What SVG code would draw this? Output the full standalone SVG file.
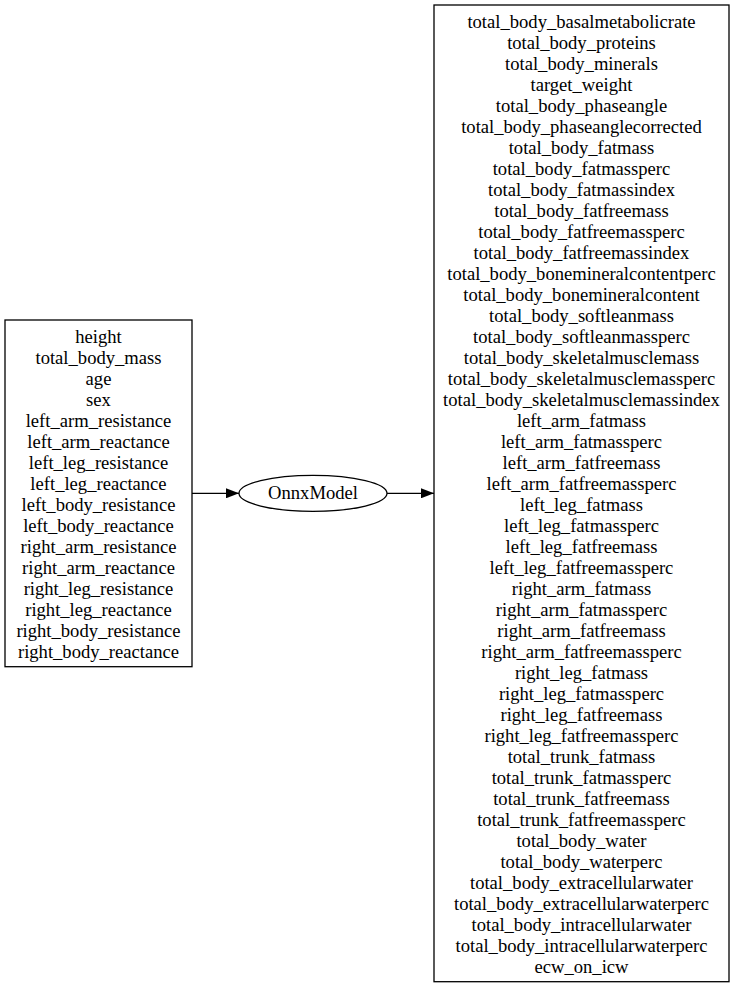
<svg xmlns="http://www.w3.org/2000/svg" width="736" height="987" viewBox="0 0 736 987">
<style>
text{font-family:"Liberation Serif","Times New Roman",serif;font-size:18.6px;text-anchor:middle;fill:#000}
.box{fill:none;stroke:#000;stroke-width:1.3}
.edge{stroke:#000;stroke-width:1.3;fill:none}
</style>
<defs>
<marker id="ah" markerWidth="13" markerHeight="10" refX="13" refY="5" orient="auto" markerUnits="userSpaceOnUse">
<path d="M0,0 L13,5 L0,10 Z" fill="#000"/>
</marker>
</defs>
<rect width="736" height="987" fill="#fff"/>
<g id="connectors">
<path class="edge" d="M192,493.3 L239,493.3" marker-end="url(#ah)"/>
<path class="edge" d="M387,493.3 L434,493.3" marker-end="url(#ah)"/>
</g>
<g id="inputs">
<rect class="box" x="5" y="320" width="187" height="346.7"/>
<text x="98.5" y="342.7">height</text>
<text x="98.5" y="363.7">total_body_mass</text>
<text x="98.5" y="384.7">age</text>
<text x="98.5" y="405.7">sex</text>
<text x="98.5" y="426.7">left_arm_resistance</text>
<text x="98.5" y="447.7">left_arm_reactance</text>
<text x="98.5" y="468.7">left_leg_resistance</text>
<text x="98.5" y="489.7">left_leg_reactance</text>
<text x="98.5" y="510.7">left_body_resistance</text>
<text x="98.5" y="531.7">left_body_reactance</text>
<text x="98.5" y="552.7">right_arm_resistance</text>
<text x="98.5" y="573.7">right_arm_reactance</text>
<text x="98.5" y="594.7">right_leg_resistance</text>
<text x="98.5" y="615.7">right_leg_reactance</text>
<text x="98.5" y="636.7">right_body_resistance</text>
<text x="98.5" y="657.7">right_body_reactance</text>
</g>
<g id="model">
<ellipse class="box" cx="313" cy="493.3" rx="74" ry="18"/>
<text x="313" y="499">OnnxModel</text>
</g>
<g id="outputs">
<rect class="box" x="434" y="5" width="295" height="976.7"/>
<text x="581.5" y="28">total_body_basalmetabolicrate</text>
<text x="581.5" y="49">total_body_proteins</text>
<text x="581.5" y="70">total_body_minerals</text>
<text x="581.5" y="91">target_weight</text>
<text x="581.5" y="112">total_body_phaseangle</text>
<text x="581.5" y="133">total_body_phaseanglecorrected</text>
<text x="581.5" y="154">total_body_fatmass</text>
<text x="581.5" y="175">total_body_fatmassperc</text>
<text x="581.5" y="196">total_body_fatmassindex</text>
<text x="581.5" y="217">total_body_fatfreemass</text>
<text x="581.5" y="238">total_body_fatfreemassperc</text>
<text x="581.5" y="259">total_body_fatfreemassindex</text>
<text x="581.5" y="280">total_body_bonemineralcontentperc</text>
<text x="581.5" y="301">total_body_bonemineralcontent</text>
<text x="581.5" y="322">total_body_softleanmass</text>
<text x="581.5" y="343">total_body_softleanmassperc</text>
<text x="581.5" y="364">total_body_skeletalmusclemass</text>
<text x="581.5" y="385">total_body_skeletalmusclemassperc</text>
<text x="581.5" y="406">total_body_skeletalmusclemassindex</text>
<text x="581.5" y="427">left_arm_fatmass</text>
<text x="581.5" y="448">left_arm_fatmassperc</text>
<text x="581.5" y="469">left_arm_fatfreemass</text>
<text x="581.5" y="490">left_arm_fatfreemassperc</text>
<text x="581.5" y="511">left_leg_fatmass</text>
<text x="581.5" y="532">left_leg_fatmassperc</text>
<text x="581.5" y="553">left_leg_fatfreemass</text>
<text x="581.5" y="574">left_leg_fatfreemassperc</text>
<text x="581.5" y="595">right_arm_fatmass</text>
<text x="581.5" y="616">right_arm_fatmassperc</text>
<text x="581.5" y="637">right_arm_fatfreemass</text>
<text x="581.5" y="658">right_arm_fatfreemassperc</text>
<text x="581.5" y="679">right_leg_fatmass</text>
<text x="581.5" y="700">right_leg_fatmassperc</text>
<text x="581.5" y="721">right_leg_fatfreemass</text>
<text x="581.5" y="742">right_leg_fatfreemassperc</text>
<text x="581.5" y="763">total_trunk_fatmass</text>
<text x="581.5" y="784">total_trunk_fatmassperc</text>
<text x="581.5" y="805">total_trunk_fatfreemass</text>
<text x="581.5" y="826">total_trunk_fatfreemassperc</text>
<text x="581.5" y="847">total_body_water</text>
<text x="581.5" y="868">total_body_waterperc</text>
<text x="581.5" y="889">total_body_extracellularwater</text>
<text x="581.5" y="910">total_body_extracellularwaterperc</text>
<text x="581.5" y="931">total_body_intracellularwater</text>
<text x="581.5" y="952">total_body_intracellularwaterperc</text>
<text x="581.5" y="973">ecw_on_icw</text>
</g>
</svg>
